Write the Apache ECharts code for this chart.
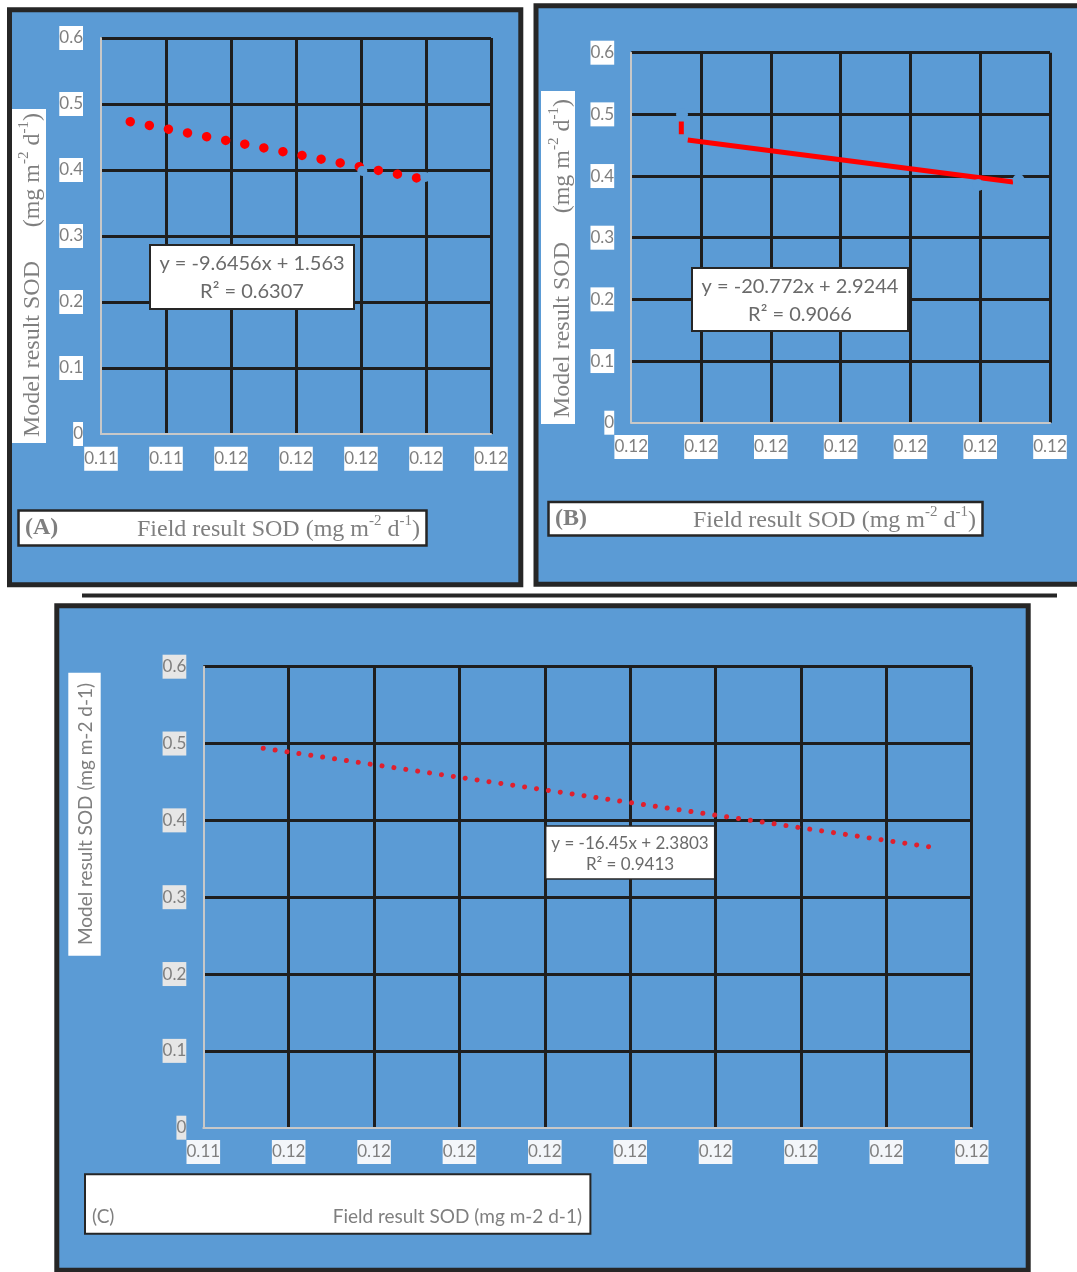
<!DOCTYPE html>
<html>
<head>
<meta charset="utf-8">
<script src="https://cdn.jsdelivr.net/npm/echarts@6/dist/echarts.min.js"></script>
<style>
  html, body { margin: 0; padding: 0; background: #ffffff; }
  #chart { width: 1077px; height: 1272px; }
</style>
</head>
<body>
<div id="chart"></div>
<script>
// ---- shared y axis ----
const yTickLabels = ['0', '0.1', '0.2', '0.3', '0.4', '0.5', '0.6'];

// ---- panel A ----
const xTickLabelsA = ['0.11', '0.11', '0.12', '0.12', '0.12', '0.12', '0.12'];
const xMinA = 0.114, xMaxA = 0.120, xStepA = 0.001;
const trendA = [[0.11445, 0.4732], [0.11886, 0.3879]];
const pointsA = [[0.11802, 0.3985], [0.11899, 0.3894]];
const equationA = ['y = -9.6456x + 1.563', 'R² = 0.6307'];

// ---- panel B ----
const xTickLabelsB = ['0.12', '0.12', '0.12', '0.12', '0.12', '0.12', '0.12'];
const xMinB = 0.116, xMaxB = 0.119, xStepB = 0.0005;
const trendB = [[0.116405, 0.4584], [0.118736, 0.3903]];
const stubB = [[0.116359, 0.4884], [0.116359, 0.4679]];
const pointsB = [[0.116364, 0.4998], [0.118485, 0.3854], [0.118775, 0.3935]];
const equationB = ['y = -20.772x + 2.9244', 'R² = 0.9066'];

// ---- panel C ----
const xTickLabelsC = ['0.11', '0.12', '0.12', '0.12', '0.12', '0.12', '0.12', '0.12', '0.12', '0.12'];
const xMinC = 0.115, xMaxC = 0.1195, xStepC = 0.0005;
const trendC = [[0.115351, 0.4938], [0.119258, 0.3654]];
const equationC = ['y = -16.45x + 2.3803', 'R² = 0.9413'];

const PANEL_BLUE = '#5b9bd5';
const FRAME = '#262626';
const GRID_BLACK = '#1e1e1e';
const AXIS_GREY = '#c8c8c8';
const TEXT_GREY = '#7f7f7f';

function tickFormatter(labels, min, step) {
  return function (v) {
    const i = Math.round((v - min) / step);
    return labels[i] !== undefined ? labels[i] : '';
  };
}

function makeXAxis(gridIndex, min, max, step, labels, labelBg, margin) {
  return {
    type: 'value', gridIndex, min, max, interval: step,
    axisLine: { show: true, onZero: false, lineStyle: { color: AXIS_GREY, width: 2 } },
    axisTick: { show: false },
    splitLine: { show: true, showMinLine: false, lineStyle: { color: GRID_BLACK, width: 3 } },
    axisLabel: {
      show: true, margin, formatter: tickFormatter(labels, min, step),
      fontFamily: 'Lato', fontSize: 17, color: TEXT_GREY, lineHeight: 20,
      backgroundColor: labelBg, padding: [2, 0, 2, 0],
      showMinLabel: true, showMaxLabel: true, hideOverlap: false
    }
  };
}

function makeYAxis(gridIndex, labelBg, margin) {
  return {
    type: 'value', gridIndex, min: 0, max: 0.6, interval: 0.1,
    axisLine: { show: true, onZero: false, lineStyle: { color: AXIS_GREY, width: 2 } },
    axisTick: { show: false },
    splitLine: { show: true, showMinLine: false, lineStyle: { color: GRID_BLACK, width: 3 } },
    axisLabel: {
      show: true, margin, formatter: tickFormatter(yTickLabels, 0, 0.1),
      fontFamily: 'Lato', fontSize: 17, color: TEXT_GREY, lineHeight: 20,
      backgroundColor: labelBg, padding: [2, 0, 2, 0],
      showMinLabel: true, showMaxLabel: true, hideOverlap: false
    }
  };
}

// ---- helpers for the framing graphics ----
function box(x, y, w, h, fill, stroke, lw, z) {
  return { type: 'rect', silent: true, z, shape: { x, y, width: w, height: h },
           style: { fill, stroke, lineWidth: lw } };
}
function label(x, y, str, style, z, rotation) {
  return { type: 'text', silent: true, z, x, y, rotation: rotation || 0,
           style: Object.assign({ text: str }, style) };
}

const serifRich = {
  n: { fontFamily: 'Liberation Serif', fontSize: 24, fill: TEXT_GREY, lineHeight: 28, verticalAlign: 'bottom' },
  s: { fontFamily: 'Liberation Serif', fontSize: 15, fill: TEXT_GREY, lineHeight: 17, verticalAlign: 'top' }
};
const unitsSerif = '{n|(mg m}{s|-2}{n| d}{s|-1}{n|)}';

const eqStyle = (size) => ({ fontFamily: 'Lato', fontSize: size, fill: '#6a6a6a', align: 'center', verticalAlign: 'middle' });

const graphics = [
  // panel frames
  box(9.5, 9.8, 511.3, 575, PANEL_BLUE, FRAME, 5, -10),
  box(536, 5.8, 600, 578.4, PANEL_BLUE, FRAME, 5, -10),
  box(56.8, 605.8, 971.4, 664.5, PANEL_BLUE, FRAME, 5, -10),
  // separator rule between the rows
  box(82, 593.5, 975, 4, FRAME, null, 0, -10),

  // panel A: axis titles
  box(12, 109, 34, 334, '#ffffff', null, 0, 5),
  label(31, 437, '{n|Model result SOD}', { rich: serifRich, align: 'left', verticalAlign: 'middle' }, 6, Math.PI / 2),
  label(31, 113, unitsSerif, { rich: serifRich, align: 'right', verticalAlign: 'middle' }, 6, Math.PI / 2),
  box(18.5, 510.5, 408, 35, '#ffffff', FRAME, 2.5, 5),
  label(25, 528, '(A)', { fontFamily: 'Liberation Serif', fontWeight: 'bold', fontSize: 24, fill: TEXT_GREY, align: 'left', verticalAlign: 'middle' }, 6),
  label(420, 528, '{n|Field result SOD }' + unitsSerif, { rich: serifRich, align: 'right', verticalAlign: 'middle' }, 6),
  // panel A: equation
  box(150, 245, 204, 64, '#ffffff', FRAME, 2, 5),
  label(252, 264, equationA[0], eqStyle(20), 6),
  label(252, 292, equationA[1], eqStyle(20), 6),

  // panel B: axis titles
  box(541, 91, 34, 333, '#ffffff', null, 0, 5),
  label(561, 418, '{n|Model result SOD}', { rich: serifRich, align: 'left', verticalAlign: 'middle' }, 6, Math.PI / 2),
  label(561, 99, unitsSerif, { rich: serifRich, align: 'right', verticalAlign: 'middle' }, 6, Math.PI / 2),
  box(548.5, 502, 434, 33.5, '#ffffff', FRAME, 2.5, 5),
  label(555, 519, '(B)', { fontFamily: 'Liberation Serif', fontWeight: 'bold', fontSize: 24, fill: TEXT_GREY, align: 'left', verticalAlign: 'middle' }, 6),
  label(976, 519, '{n|Field result SOD }' + unitsSerif, { rich: serifRich, align: 'right', verticalAlign: 'middle' }, 6),
  // panel B: equation
  box(692, 268, 216, 63, '#ffffff', FRAME, 2, 5),
  label(800, 287, equationB[0], eqStyle(20), 6),
  label(800, 315, equationB[1], eqStyle(20), 6),

  // panel C: axis titles
  box(68.3, 672.7, 32.4, 283, '#ffffff', null, 0, 5),
  label(86, 814, 'Model result SOD (mg m-2 d-1)', { fontFamily: 'Lato', fontSize: 19, fill: TEXT_GREY, align: 'center', verticalAlign: 'middle' }, 6, Math.PI / 2),
  box(85, 1174.3, 505.4, 59.4, '#ffffff', FRAME, 2, 5),
  label(92, 1217, '(C)', { fontFamily: 'Lato', fontSize: 19, fill: TEXT_GREY, align: 'left', verticalAlign: 'middle' }, 6),
  label(582, 1217, 'Field result SOD (mg m-2 d-1)', { fontFamily: 'Lato', fontSize: 19, fill: TEXT_GREY, align: 'right', verticalAlign: 'middle' }, 6),
  // panel C: equation
  box(545.7, 826, 169, 53, '#ffffff', FRAME, 1.5, 5),
  label(630, 843.5, equationC[0], eqStyle(17), 6),
  label(630, 865, equationC[1], eqStyle(17), 6)
];

const option = {
  animation: false,
  backgroundColor: '#ffffff',
  grid: [
    { left: 101, top: 38, width: 390, height: 396, containLabel: false, outerBoundsMode: 'none' },
    { left: 631.2, top: 52.7, width: 418.8, height: 370, containLabel: false, outerBoundsMode: 'none' },
    { left: 203.3, top: 666.7, width: 768.4, height: 461, containLabel: false, outerBoundsMode: 'none' }
  ],
  xAxis: [
    makeXAxis(0, xMinA, xMaxA, xStepA, xTickLabelsA, '#ffffff', 12.7),
    makeXAxis(1, xMinB, xMaxB, xStepB, xTickLabelsB, '#ffffff', 12.3),
    makeXAxis(2, xMinC, xMaxC, xStepC, xTickLabelsC, '#f3f6fa', 12.3)
  ],
  yAxis: [
    makeYAxis(0, '#ffffff', 18),
    makeYAxis(1, '#ffffff', 17),
    makeYAxis(2, '#e6e6e6', 17)
  ],
  series: [
    // A: round-dot trend line, then the (background coloured) markers
    { type: 'line', xAxisIndex: 0, yAxisIndex: 0, data: trendA, showSymbol: false, silent: true, z: 3,
      lineStyle: { color: '#ff0000', width: 9.5, type: [0.01, 19.44], cap: 'round' } },
    { type: 'scatter', xAxisIndex: 0, yAxisIndex: 0, data: pointsA, symbol: 'circle', symbolSize: 10, silent: true, z: 4,
      itemStyle: { color: PANEL_BLUE, opacity: 1 } },
    // B: solid trend line, short data-line piece and markers
    { type: 'line', xAxisIndex: 1, yAxisIndex: 1, data: trendB, showSymbol: false, silent: true, z: 3,
      lineStyle: { color: '#ff0000', width: 5, cap: 'butt' } },
    { type: 'line', xAxisIndex: 1, yAxisIndex: 1, data: stubB, showSymbol: false, silent: true, z: 3,
      lineStyle: { color: '#ff0000', width: 5, cap: 'butt' } },
    { type: 'scatter', xAxisIndex: 1, yAxisIndex: 1, data: pointsB, symbol: 'circle', symbolSize: 12, silent: true, z: 4,
      itemStyle: { color: PANEL_BLUE, opacity: 1 } },
    // C: round-dot trend line
    { type: 'line', xAxisIndex: 2, yAxisIndex: 2, data: trendC, showSymbol: false, silent: true, z: 3,
      lineStyle: { color: '#e0202e', width: 5, type: [0.01, 12.0], cap: 'round' } }
  ],
  graphic: { elements: graphics }
};

const chart = echarts.init(document.getElementById('chart'), null, { renderer: 'canvas' });
chart.setOption(option);
</script>
</body>
</html>
